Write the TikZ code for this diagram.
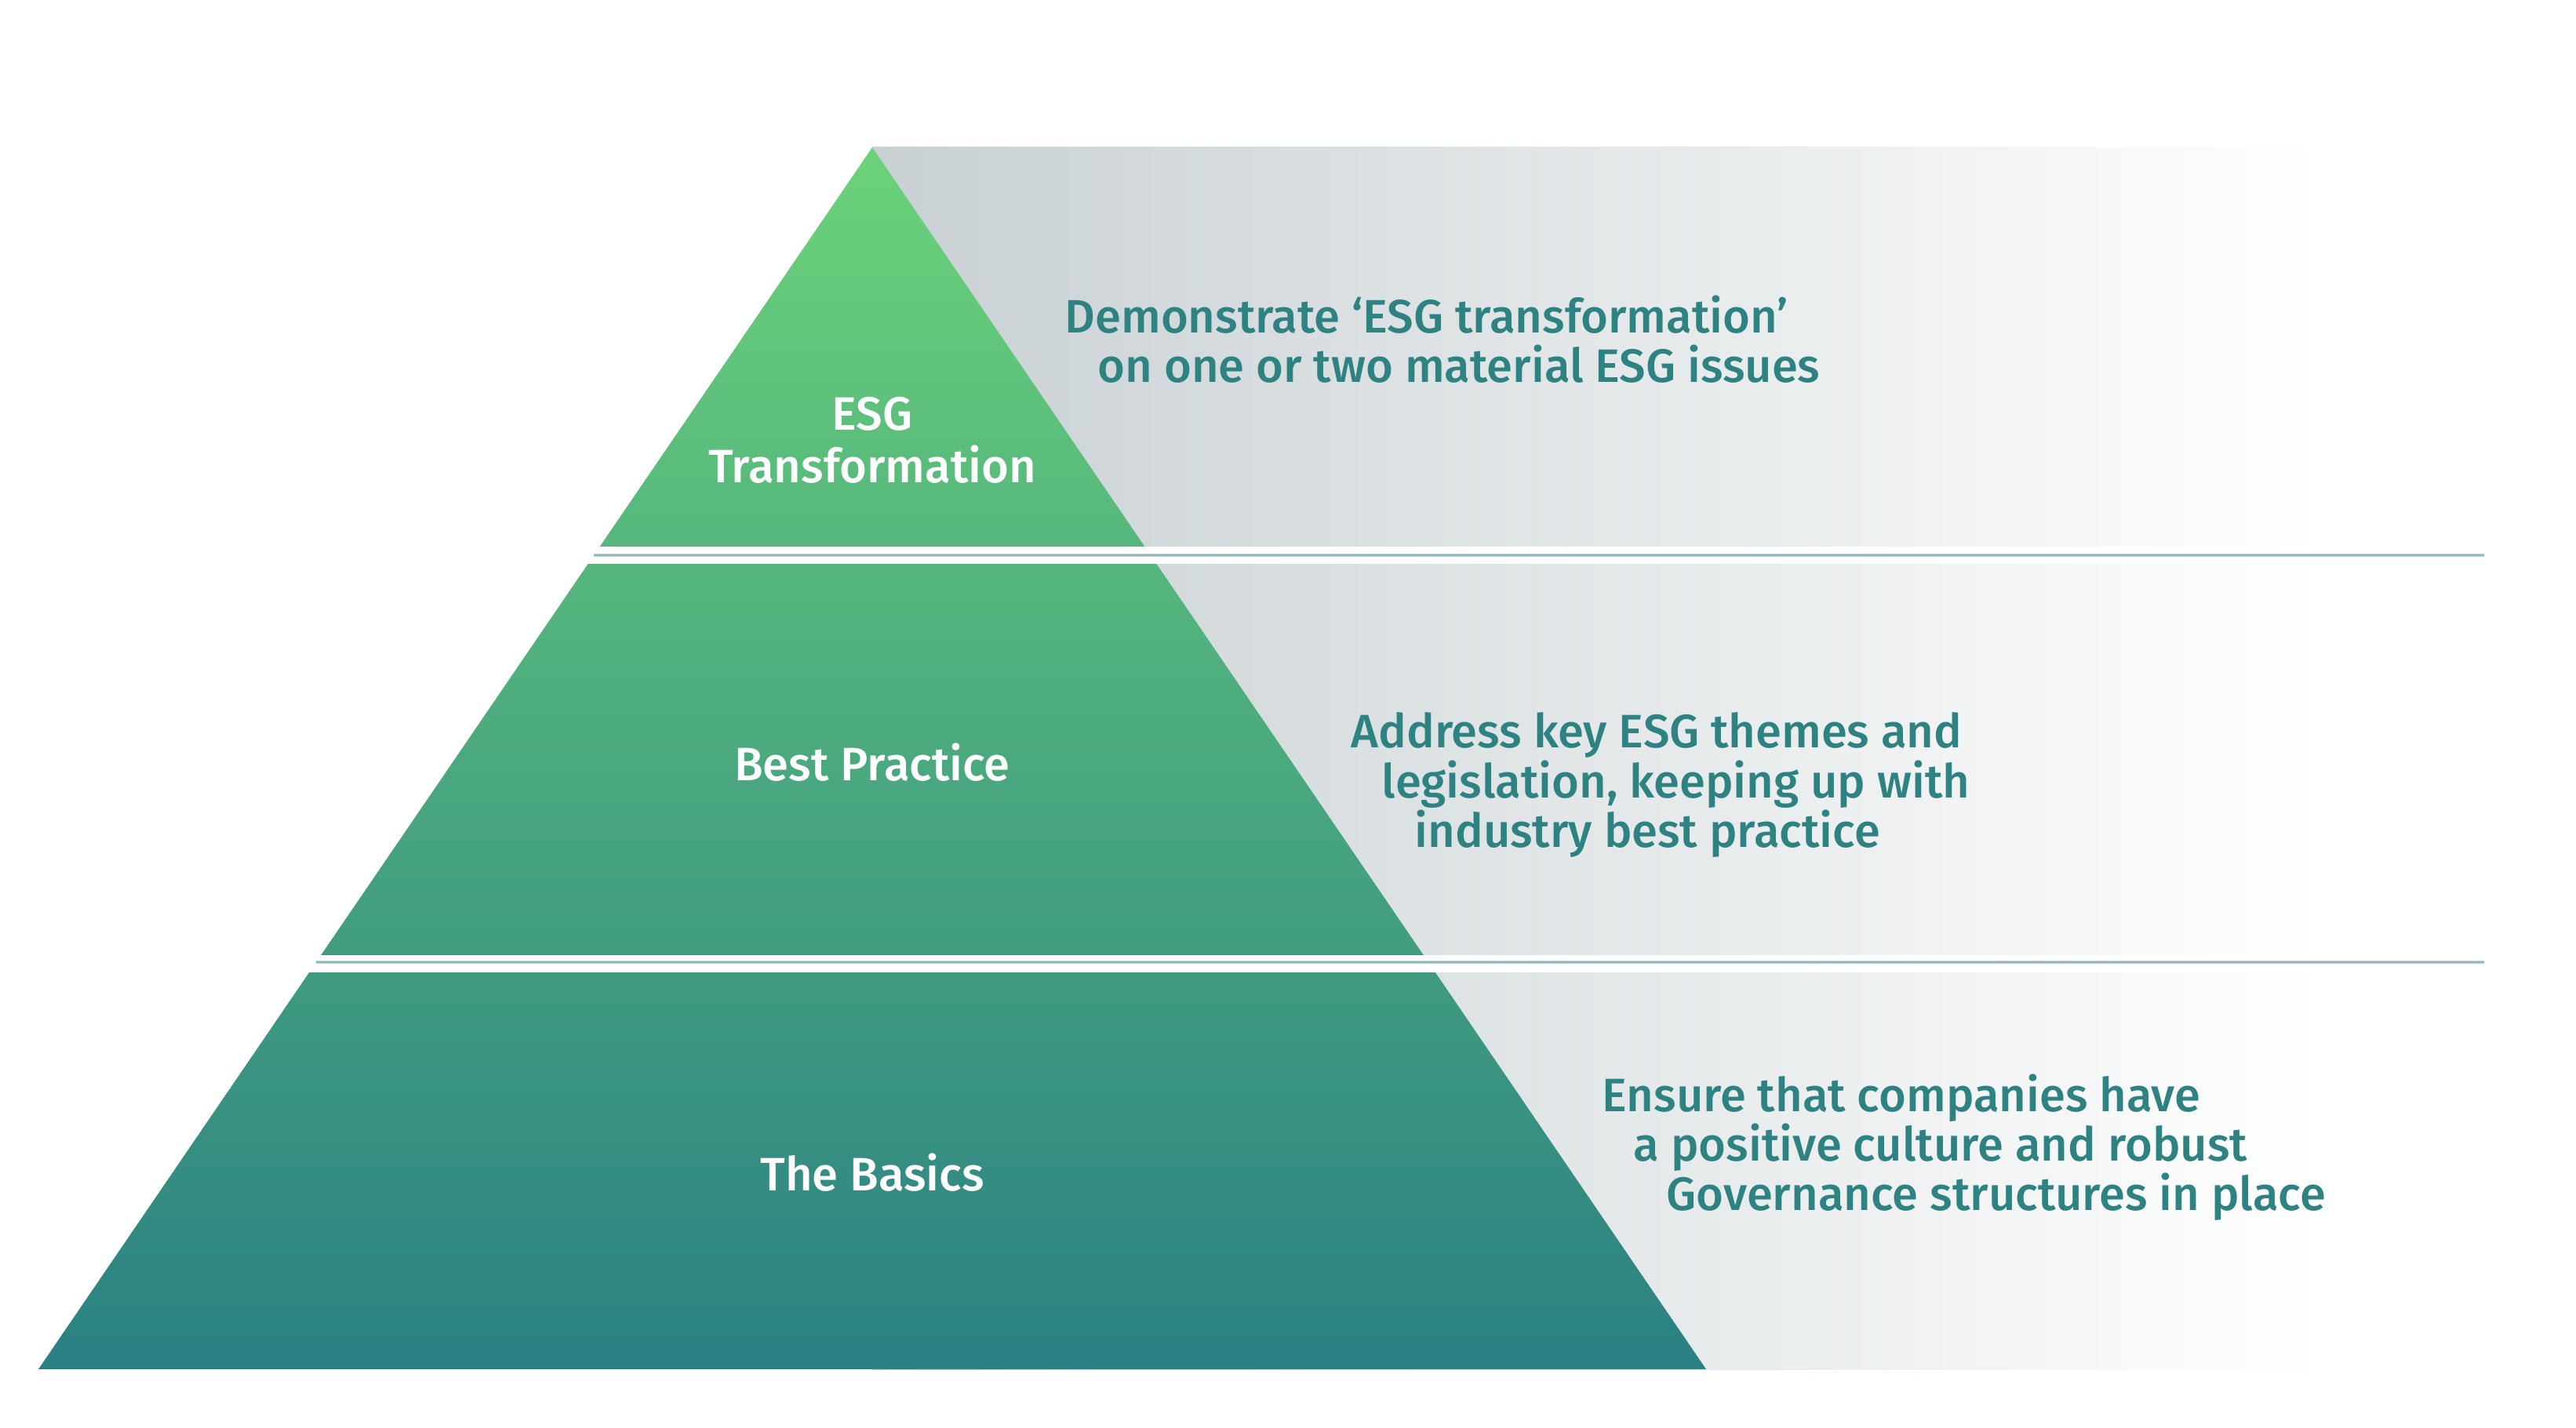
\documentclass[tikz,border=0pt]{standalone}
\usepackage{fontspec}
\setmainfont{Fira Sans}
\newfontfamily\medfont{Fira Sans Medium}
\usetikzlibrary{calc}

\definecolor{bandgray}{HTML}{C8D0D3}
\definecolor{greentop}{HTML}{6CD27A}
\definecolor{greenmid}{HTML}{409D87}
\definecolor{tealbot}{HTML}{2A8083}
\definecolor{desctext}{HTML}{2E8282}
\definecolor{sepline}{HTML}{93B7BF}

\begin{document}
\begin{tikzpicture}[
    x=1cm, y=1cm,
    every node/.style={font=\medfont\fontsize{17}{18}\selectfont},
    tierlabel/.style={
        text=white,
        align=center,
        inner sep=0pt
    },
    desc/.style={
        text=desctext,
        align=left,
        anchor=west,
        inner sep=0pt
    },
    sep/.style={sepline, line width=0.9pt},
    gap/.style={fill=white}
]

    \useasboundingbox (0,0) rectangle (32.84,18.20);
    \fill[white] (0,0) rectangle (32.84,18.20);

    % Pyramid corners
    \coordinate (apex) at (11.12,16.32);
    \coordinate (bl) at (0.49,0.74);
    \coordinate (br) at (21.75,0.74);

    % Grey band behind
    \shade[left color=bandgray, right color=white]
        (11.12,0.74) rectangle (29.6,16.32);

    % Pyramid
    \shade[top color=greentop, middle color=greenmid, bottom color=tealbot]
        (apex) -- (br) -- (bl) -- cycle;

    % Gaps between tiers
    \fill[gap] (0,11.01) rectangle (32.84,11.23);
    \fill[gap] (0,5.80) rectangle (32.84,6.02);

    % Separator lines
    \draw[sep] ($(apex)!0.3338!(bl)$) -- (31.67,11.12);
    \draw[sep] ($(apex)!0.6669!(bl)$) -- (31.67,5.93);

    % Tier labels
    \node[tierlabel, font=\medfont\fontsize{17}{19}\selectfont] (top) at (11.12,12.59) {ESG\\Transformation};
    \node[tierlabel] (mid) at (11.12,8.48) {Best Practice};
    \node[tierlabel] (base) at (11.12,3.25) {The Basics};

    % Descriptions
    \node[desc] (topdesc) at (13.57,13.87) {%
        Demonstrate ‘ESG transformation’\\
        \hspace*{0.42cm}on one or two material ESG issues};
    \node[desc] (middesc) at (17.22,8.19) {%
        Address key ESG themes and\\
        \hspace*{0.39cm}legislation, keeping up with\\
        \hspace*{0.81cm}industry best practice};
    \node[desc] (basedesc) at (20.42,3.57) {%
        Ensure that companies have\\
        \hspace*{0.40cm}a positive culture and robust\\
        \hspace*{0.82cm}Governance structures in place};

\end{tikzpicture}
\end{document}
